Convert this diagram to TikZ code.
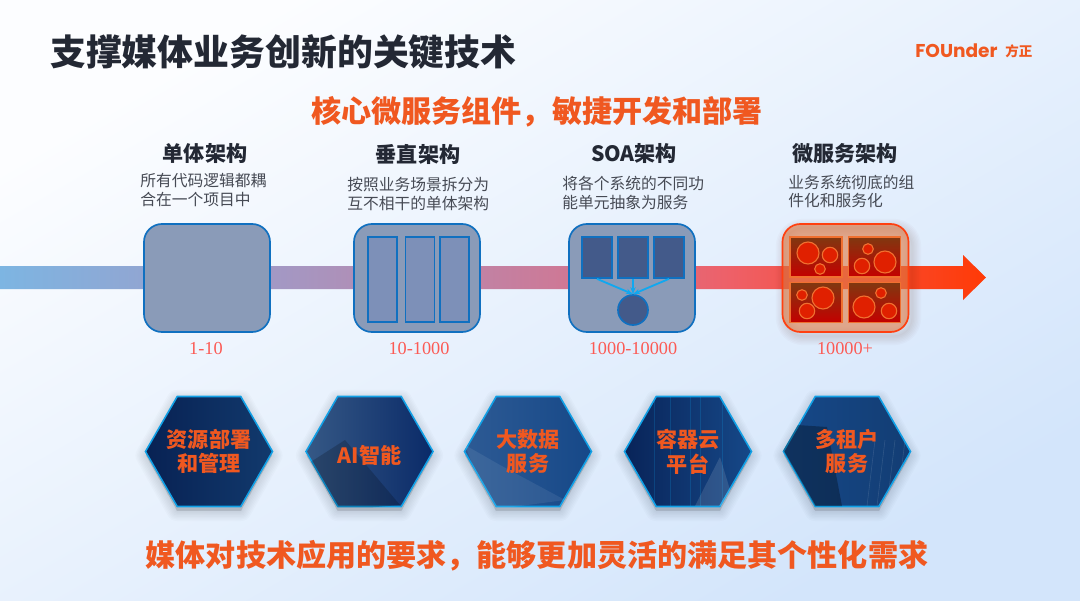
\documentclass[tikz,border=0pt]{standalone}
\usepackage{fontspec}
\setmainfont{Noto Sans CJK SC}
\newfontfamily\numfont{Liberation Serif}
\newfontfamily\logofont{Poppins}
\usetikzlibrary{shapes.geometric, arrows.meta}
\definecolor{bgfrom}{RGB}{252, 253, 255}
\definecolor{bgto}{RGB}{211, 229, 251}
\definecolor{titleink}{RGB}{35, 40, 52}
\definecolor{bodyink}{RGB}{70, 74, 84}
\definecolor{hotink}{RGB}{240, 88, 32}
\definecolor{numink}{RGB}{252, 90, 84}
\definecolor{bandA}{RGB}{125, 181, 226}
\definecolor{bandB}{RGB}{163, 152, 196}
\definecolor{bandC}{RGB}{204, 122, 152}
\definecolor{bandD}{RGB}{238, 96, 104}
\definecolor{bandE}{RGB}{255, 58, 6}
\definecolor{boxfill}{RGB}{138, 155, 184}
\definecolor{boxline}{RGB}{16, 112, 192}
\definecolor{slotfill}{RGB}{125, 144, 184}
\definecolor{darkfill}{RGB}{67, 90, 138}
\definecolor{linkline}{RGB}{16, 168, 240}
\definecolor{hotfill}{RGB}{224, 120, 64}
\definecolor{hotline}{RGB}{255, 64, 16}
\definecolor{cellline}{RGB}{240, 112, 48}
\definecolor{celltop}{RGB}{128, 56, 16}
\definecolor{cellbottom}{RGB}{196, 0, 0}
\definecolor{bubble}{RGB}{224, 32, 0}
\definecolor{hexline}{RGB}{16, 160, 230}
\definecolor{hexdark}{RGB}{10, 42, 104}
\definecolor{hexlight}{RGB}{22, 72, 136}
\pgfdeclarehorizontalshading{bandshade}{100bp}{color(0bp)=(bandA);
    color(25bp)=(bandA); color(39bp)=(bandB); color(53bp)=(bandC);
    color(62bp)=(bandD); color(75bp)=(bandE); color(100bp)=(bandE)}
\tikzset{
    x=.025cm, y=-.025cm,
    pagetitle/.style={font=\fontsize{25.5}{30}\selectfont\bfseries, text=titleink,
        anchor=west, inner sep=0},
    hotline text/.style={font=\fontsize{21.4}{26}\selectfont\bfseries, text=hotink,
        inner sep=0},
    coltitle/.style={font=\fontsize{15}{18}\selectfont\bfseries, text=titleink,
        inner sep=0},
    coltext/.style={font=\fontsize{11.2}{13}\selectfont, text=bodyink, anchor=west,
        align=left, inner sep=0},
    rangetext/.style={font=\fontsize{13}{15}\numfont, text=numink, inner sep=0},
    archbox/.style={draw=boxline, fill=boxfill, line width=1.2pt, rounded corners=.45cm,
        minimum width=3.15cm, minimum height=2.7cm, inner sep=0},
    slotbox/.style={draw=boxline, fill=slotfill, line width=1.2pt, minimum width=.725cm,
        minimum height=2.125cm, inner sep=0},
    darkbox/.style={draw=boxline, fill=darkfill, line width=1.2pt, minimum width=.75cm,
        minimum height=1.025cm, inner sep=0},
    darkball/.style={draw=boxline, fill=darkfill, line width=1.2pt, circle,
        minimum size=.75cm, inner sep=0},
    linkarrow/.style={-{Stealth[length=5pt]}, linkline, line width=1.3pt},
    cellbox/.style={draw=cellline, line width=1pt, top color=celltop,
        bottom color=cellbottom, minimum width=1.3cm, minimum height=1cm, inner sep=0},
    bubbledot/.style={draw=cellline, fill=bubble, line width=.8pt},
    hexbox/.style={regular polygon, regular polygon sides=6, minimum size=3.175cm,
        draw=hexline, line width=1.1pt, left color=hexlight, right color=hexdark,
        shading angle=40, inner sep=0},
    hexlabel/.style={inner sep=0, align=center, text=hotink,
        font=\fontsize{15}{17.6}\selectfont\bfseries},
    softhex/.pic={
        \foreach \grow in {1,3,...,15}
            \fill[black, opacity=.016, draw=black, line width=\grow pt, line join=round]
                (-63,4) -- (-32,-51) -- (32,-51) -- (63,4) -- (32,59) -- (-32,59) -- cycle;
    },
    hexclip/.style={insert path={(#1.corner 1) -- (#1.corner 2) -- (#1.corner 3)
        -- (#1.corner 4) -- (#1.corner 5) -- (#1.corner 6) -- cycle}},
}

\begin{document}
\begin{tikzpicture}
    \useasboundingbox (0,0) rectangle (1080,600);
    \fill[left color=bgfrom, right color=bgto, shading angle=30]
        (0,0) rectangle (1080,600);

    \node[pagetitle] (pagehead) at (50,52) {支撑媒体业务创新的关键技术};
    \node[anchor=west, inner sep=0, text=hotink, font=\fontsize{13.2}{16}\logofont\bfseries]
        (brand) at (915,51) {FOUnder};
    \node[anchor=west, inner sep=0, text=hotink, font=\fontsize{9.6}{12}\selectfont\bfseries]
        (brandcn) at (1005,51) {方正};
    \node[hotline text] (toptext) at (537,111.5) {核心微服务组件，敏捷开发和部署};
    \node[hotline text] (bottomtext) at (537,555.5)
        {媒体对技术应用的要求，能够更加灵活的满足其个性化需求};

    \shade[shading=bandshade] (0,266) -- (963,266) -- (963,255) -- (986,277.5)
        -- (963,300) -- (963,289) -- (0,289) -- cycle;

    % first three columns
    \node[coltitle] (monohead) at (205,154) {单体架构};
    \node[coltext] (monotext) at (140,190) {所有代码逻辑都耦\\合在一个项目中};
    \node[archbox] (monobox) at (207,278) {};
    \node[rangetext] (monorange) at (206,349) {1-10};

    \node[coltitle] (verthead) at (418,154) {垂直架构};
    \node[coltext] (verttext) at (347,194) {按照业务场景拆分为\\互不相干的单体架构};
    \node[archbox] (vertbox) at (417,278) {};
    \node[slotbox] (vertslotA) at (382.5,279.5) {};
    \node[slotbox] (vertslotB) at (420,279.5) {};
    \node[slotbox] (vertslotC) at (454.5,279.5) {};
    \node[rangetext] (vertrange) at (419,349) {10-1000};

    \node[coltitle] (soahead) at (634,154) {SOA架构};
    \node[coltext] (soatext) at (562,193) {将各个系统的不同功\\能单元抽象为服务};
    \node[archbox] (soabox) at (632,278) {};
    \node[darkbox] (soaunitA) at (597,257.5) {};
    \node[darkbox] (soaunitB) at (633,257.5) {};
    \node[darkbox] (soaunitC) at (669,257.5) {};
    \node[darkball] (soabus) at (633,310) {};
    \draw[linkarrow] (soaunitA.south) -- (soabus.north);
    \draw[linkarrow] (soaunitB.south) -- (soabus.north);
    \draw[linkarrow] (soaunitC.south) -- (soabus.north);
    \node[rangetext] (soarange) at (633,349) {1000-10000};

    % microservice column
    \node[coltitle] (microhead) at (845,154) {微服务架构};
    \node[coltext] (microtext) at (788,191.5) {业务系统彻底的组\\件化和服务化};
    \foreach \grow in {1,3,...,13}
        \draw[hotline!40!black, opacity=.018, line width=\grow pt, rounded corners=.45cm]
            (785,228) rectangle (912,336);
    \node[archbox, draw=hotline, fill=hotfill, fill opacity=.6] (microbox) at (845.5,278) {};
    \node[cellbox] (cellA) at (816,257) {};
    \node[cellbox] (cellB) at (874.5,257) {};
    \node[cellbox] (cellC) at (816,302.5) {};
    \node[cellbox] (cellD) at (874.5,302.5) {};
    \foreach \bx/\by/\br in {808/253/11, 830/255/7.7, 820/269/5.3,
            868/249/5.3, 862/266/7.7, 885/262/11,
            802/295/5.3, 823/298/11, 807/311/7.7,
            881/293/5.3, 864/307/11, 889/311/7.7}
        \draw[bubbledot] (\bx,\by) circle[radius=\br*.025cm];
    \node[rangetext] (microrange) at (845,349) {10000+};

    % hexagons
    \foreach \hx in {209,369.5,528,688,847}
        \pic at (\hx,451.5) {softhex};
    \node[hexbox, left color=hexdark!80!black, right color=hexlight!80!black] (hexres)
        at (209,451.5) {};
    \node[hexbox, left color=hexlight!70!gray, right color=hexdark] (hexai)
        at (369.5,451.5) {};
    \node[hexbox, left color=hexlight!90!white, right color=hexlight] (hexdata)
        at (528,451.5) {};
    \node[hexbox, left color=hexdark!85!black, right color=hexlight] (hexcloud)
        at (688,451.5) {};
    \node[hexbox, left color=hexlight, right color=hexlight!85!black] (hextenant)
        at (847,451.5) {};

    \begin{scope}
        \clip[hexclip=hexai];
        \fill[black, opacity=.2] (306,465) -- (345,440) -- (400,505) -- (340,510) -- cycle;
    \end{scope}
    \begin{scope}
        \clip[hexclip=hexdata];
        \fill[white, opacity=.08] (465,445) -- (500,465) -- (565,500) -- (490,510) -- cycle;
    \end{scope}
    \begin{scope}
        \clip[hexclip=hexcloud];
        \foreach \lx in {654,670,690,700,722}
            \draw[linkline, opacity=.2] (\lx,397) -- (\lx,506);
        \fill[white, opacity=.12] (695,506) -- (720,457) -- (735,506) -- cycle;
    \end{scope}
    \begin{scope}
        \clip[hexclip=hextenant];
        \fill[black, opacity=.3] (783,450) -- (797,425) -- (827,427) -- (842,506)
            -- (815,506) -- cycle;
        \foreach \lx in {875,885,895,905}
            \draw[white, opacity=.12] (\lx,440) -- (\lx-8,506);
    \end{scope}

    \node[hexlabel] (hexreslabel) at (209,451.5) {资源部署\\和管理};
    \node[hexlabel] (hexailabel) at (369.5,455) {AI智能};
    \node[hexlabel] (hexdatalabel) at (528,451.5) {大数据\\服务};
    \node[hexlabel] (hexcloudlabel) at (688,451.5) {容器云\\平台};
    \node[hexlabel] (hextenantlabel) at (847,451.5) {多租户\\服务};
\end{tikzpicture}
\end{document}
